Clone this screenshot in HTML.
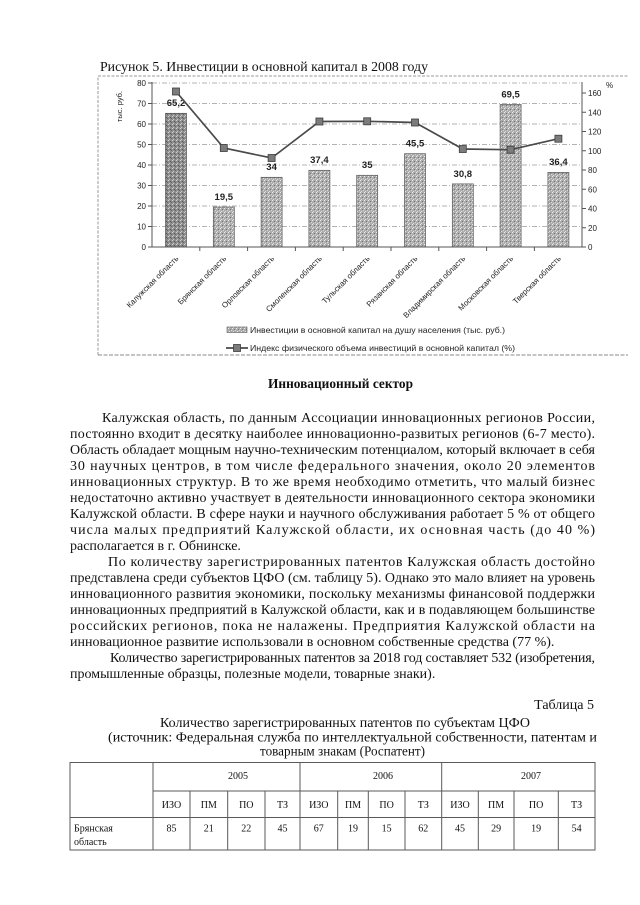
<!DOCTYPE html>
<html>
<head>
<meta charset="utf-8">
<style>
html,body{margin:0;padding:0;background:#fff;}
svg{display:block;}
.serif{font-family:"Liberation Serif","Noto Serif CJK SC",serif;}
.sans{font-family:"Liberation Sans","Noto Sans CJK SC",sans-serif;}
</style>
</head>
<body>
<svg width="640" height="905" viewBox="0 0 640 905" xmlns="http://www.w3.org/2000/svg">
<defs>
  <pattern id="pl" width="4" height="4" patternUnits="userSpaceOnUse">
    <rect width="4" height="4" fill="#acacac"/>
    <rect x="0" y="0" width="1" height="1" fill="#eeeeee"/>
    <rect x="2" y="1" width="1" height="1" fill="#777"/>
    <rect x="1" y="3" width="1" height="1" fill="#e0e0e0"/>
    <rect x="3" y="2" width="1" height="1" fill="#d8d8d8"/>
  </pattern>
  <pattern id="pd" width="4" height="4" patternUnits="userSpaceOnUse">
    <rect width="4" height="4" fill="#8e8e8e"/>
    <rect x="0" y="0" width="1" height="1" fill="#d0d0d0"/>
    <rect x="2" y="1" width="1" height="1" fill="#555"/>
    <rect x="1" y="3" width="1" height="1" fill="#c8c8c8"/>
    <rect x="3" y="2" width="1" height="1" fill="#666"/>
  </pattern>
</defs>

<!-- Chart title -->
<text class="serif" x="100" y="71" font-size="14" fill="#111" textLength="328" lengthAdjust="spacingAndGlyphs">Рисунок 5. Инвестиции в основной капитал в 2008 году</text>

<!-- chart frame -->
<path d="M98,355 V76 H628" fill="none" stroke="#9a9a9a" stroke-width="1" stroke-dasharray="3,1.5"/>
<line x1="98" y1="355" x2="628" y2="355" stroke="#8a8a8a" stroke-width="1" stroke-dasharray="4,1.5"/>

<!-- gridlines -->
<g stroke="#9a9a9a" stroke-width="0.8" stroke-dasharray="5,2,1,2" fill="none">
  <line x1="152" y1="83" x2="582" y2="83"/>
  <line x1="152" y1="103.5" x2="582" y2="103.5"/>
  <line x1="152" y1="124" x2="582" y2="124"/>
  <line x1="152" y1="144.5" x2="582" y2="144.5"/>
  <line x1="152" y1="165" x2="582" y2="165"/>
  <line x1="152" y1="185.5" x2="582" y2="185.5"/>
  <line x1="152" y1="206" x2="582" y2="206"/>
  <line x1="152" y1="226.5" x2="582" y2="226.5"/>
</g>

<!-- bars -->
<g stroke="#555" stroke-width="0.7">
  <rect x="165.5" y="113.3" width="21" height="133.7" fill="url(#pd)"/>
  <rect x="213.3" y="207" width="21" height="40" fill="url(#pl)"/>
  <rect x="261.1" y="177.3" width="21" height="69.7" fill="url(#pl)"/>
  <rect x="308.9" y="170.3" width="21" height="76.7" fill="url(#pl)"/>
  <rect x="356.7" y="175.3" width="21" height="71.7" fill="url(#pl)"/>
  <rect x="404.5" y="153.7" width="21" height="93.3" fill="url(#pl)"/>
  <rect x="452.3" y="183.9" width="21" height="63.1" fill="url(#pl)"/>
  <rect x="500.1" y="104.5" width="21" height="142.5" fill="url(#pl)"/>
  <rect x="547.9" y="172.4" width="21" height="74.6" fill="url(#pl)"/>
</g>

<!-- axes -->
<g stroke="#555" stroke-width="1" fill="none">
  <line x1="152" y1="82" x2="152" y2="247"/>
  <line x1="152" y1="247" x2="582" y2="247"/>
  <line x1="582" y1="82" x2="582" y2="247"/>
  <path d="M148,247H152M148,226.5H152M148,206H152M148,185.5H152M148,165H152M148,144.5H152M148,124H152M148,103.5H152M148,83H152"/>
  <path d="M582,247H586M582,227.75H586M582,208.5H586M582,189.25H586M582,170H586M582,150.75H586M582,131.5H586M582,112.25H586M582,93H586"/>
  <path d="M199.8,247V251M247.6,247V251M295.4,247V251M343.2,247V251M391,247V251M438.8,247V251M486.6,247V251M534.4,247V251"/>
</g>

<!-- left tick labels -->
<g class="sans" font-size="8" fill="#222" text-anchor="end">
  <text x="146" y="250">0</text>
  <text x="146" y="229.5">10</text>
  <text x="146" y="209">20</text>
  <text x="146" y="188.5">30</text>
  <text x="146" y="168">40</text>
  <text x="146" y="147.5">50</text>
  <text x="146" y="127">60</text>
  <text x="146" y="106.5">70</text>
  <text x="146" y="86">80</text>
</g>
<!-- right tick labels -->
<g class="sans" font-size="8" fill="#222">
  <text x="588" y="250">0</text>
  <text x="588" y="230.75">20</text>
  <text x="588" y="211.5">40</text>
  <text x="588" y="192.25">60</text>
  <text x="588" y="173">80</text>
  <text x="588" y="153.75">100</text>
  <text x="588" y="134.5">120</text>
  <text x="588" y="115.25">140</text>
  <text x="588" y="96">160</text>
  <text x="606" y="88">%</text>
</g>

<!-- y-axis title -->
<text class="sans" font-size="7.5" fill="#222" text-anchor="middle" transform="translate(122,106.5) rotate(-90)">тыс. руб.</text>

<!-- data labels -->
<g class="sans" font-size="9.5" font-weight="bold" fill="#222" text-anchor="middle">
  <text x="176" y="106">65,2</text>
  <text x="223.8" y="200">19,5</text>
  <text x="271.6" y="170">34</text>
  <text x="319.4" y="163">37,4</text>
  <text x="367.2" y="168">35</text>
  <text x="415" y="146.5">45,5</text>
  <text x="462.8" y="177">30,8</text>
  <text x="510.6" y="97.5">69,5</text>
  <text x="558.4" y="165">36,4</text>
</g>

<!-- line series -->
<polyline points="176,91.5 223.8,148 271.6,158 319.4,121.5 367.2,121.3 415,122.5 462.8,149 510.6,149.7 558.4,138.7" fill="none" stroke="#4a4a4a" stroke-width="1.7"/>
<g fill="#7c7c7c" stroke="#3c3c3c" stroke-width="0.8">
  <rect x="172.5" y="88" width="7" height="7"/>
  <rect x="220.3" y="144.5" width="7" height="7"/>
  <rect x="268.1" y="154.5" width="7" height="7"/>
  <rect x="315.9" y="118" width="7" height="7"/>
  <rect x="363.7" y="117.8" width="7" height="7"/>
  <rect x="411.5" y="119" width="7" height="7"/>
  <rect x="459.3" y="145.5" width="7" height="7"/>
  <rect x="507.1" y="146.2" width="7" height="7"/>
  <rect x="554.9" y="135.2" width="7" height="7"/>
</g>

<!-- x-axis category labels -->
<g class="sans" font-size="7.8" fill="#222" text-anchor="end">
  <text transform="translate(179,259) rotate(-45)">Калужская область</text>
  <text transform="translate(226.8,259) rotate(-45)">Брянская область</text>
  <text transform="translate(274.6,259) rotate(-45)">Орловская область</text>
  <text transform="translate(322.4,259) rotate(-45)">Смоленская область</text>
  <text transform="translate(370.2,259) rotate(-45)">Тульская область</text>
  <text transform="translate(418,259) rotate(-45)">Рязанская область</text>
  <text transform="translate(465.8,259) rotate(-45)">Владимирская область</text>
  <text transform="translate(513.6,259) rotate(-45)">Московская область</text>
  <text transform="translate(561.4,259) rotate(-45)">Тверская область</text>
</g>

<!-- legend -->
<rect x="227" y="327" width="20" height="5.5" fill="url(#pl)" stroke="#555" stroke-width="0.6"/>
<text class="sans" x="250" y="333" font-size="8.3" fill="#222" textLength="255" lengthAdjust="spacingAndGlyphs">Инвестиции в основной капитал на душу населения (тыс. руб.)</text>
<line x1="226" y1="348" x2="248" y2="348" stroke="#4a4a4a" stroke-width="1.7"/>
<rect x="233.5" y="344.5" width="7" height="7" fill="#7c7c7c" stroke="#3c3c3c" stroke-width="0.8"/>
<text class="sans" x="250" y="351" font-size="8.3" fill="#222" textLength="265" lengthAdjust="spacingAndGlyphs">Индекс физического объема инвестиций в основной капитал (%)</text>

<!-- Heading -->
<text class="serif" x="268" y="388" font-size="14" font-weight="bold" fill="#111" textLength="145" lengthAdjust="spacingAndGlyphs">Инновационный сектор</text>

<!-- Paragraphs -->
<g class="serif" font-size="14" fill="#111">
  <text x="102" y="422" textLength="493" lengthAdjust="spacing">Калужская область, по данным Ассоциации инновационных регионов России,</text>
  <text x="70" y="438" textLength="525" lengthAdjust="spacing">постоянно входит в десятку наиболее инновационно-развитых регионов (6-7 место).</text>
  <text x="70" y="454" textLength="525" lengthAdjust="spacing">Область обладает мощным научно-техническим потенциалом, который включает в себя</text>
  <text x="70" y="470" textLength="525" lengthAdjust="spacing">30 научных центров, в том числе федерального значения,  около 20 элементов</text>
  <text x="70" y="486" textLength="525" lengthAdjust="spacing">инновационных структур. В то же время необходимо отметить, что малый бизнес</text>
  <text x="70" y="502" textLength="525" lengthAdjust="spacing">недостаточно активно участвует в деятельности инновационного сектора экономики</text>
  <text x="70" y="518" textLength="525" lengthAdjust="spacing">Калужской области. В сфере науки и научного обслуживания работает 5 % от общего</text>
  <text x="70" y="534" textLength="525" lengthAdjust="spacing">числа малых предприятий Калужской области, их основная часть (до 40 %)</text>
  <text x="70" y="550">располагается в г. Обнинске.</text>
  <text x="108" y="566" textLength="487" lengthAdjust="spacing">По количеству зарегистрированных патентов Калужская область достойно</text>
  <text x="70" y="582" textLength="525" lengthAdjust="spacing">представлена среди субъектов ЦФО (см. таблицу 5). Однако это мало влияет на уровень</text>
  <text x="70" y="598" textLength="525" lengthAdjust="spacing">инновационного развития экономики, поскольку механизмы финансовой поддержки</text>
  <text x="70" y="614" textLength="525" lengthAdjust="spacing">инновационных предприятий в Калужской области, как и в подавляющем большинстве</text>
  <text x="70" y="630" textLength="525" lengthAdjust="spacing">российских регионов, пока не налажены. Предприятия Калужской области на</text>
  <text x="70" y="646">инновационное развитие использовали в основном собственные средства (77 %).</text>
  <text x="110" y="662" textLength="485" lengthAdjust="spacing">Количество зарегистрированных патентов за 2018 год составляет 532 (изобретения,</text>
  <text x="70" y="678">промышленные образцы, полезные модели, товарные знаки).</text>
</g>

<!-- Table caption -->
<g class="serif" font-size="14" fill="#111">
  <text x="594" y="709" text-anchor="end">Таблица 5</text>
  <text x="160" y="727" textLength="370" lengthAdjust="spacingAndGlyphs">Количество зарегистрированных патентов по субъектам ЦФО</text>
  <text x="108" y="741.5" textLength="489" lengthAdjust="spacingAndGlyphs">(источник: Федеральная служба по интеллектуальной собственности, патентам и</text>
  <text x="260" y="755.5" textLength="165" lengthAdjust="spacingAndGlyphs">товарным знакам (Роспатент)</text>
</g>

<!-- Table -->
<g stroke="#5a5a5a" stroke-width="1" fill="none">
  <rect x="70" y="762.5" width="525" height="87.5"/>
  <line x1="153" y1="791" x2="595" y2="791"/>
  <line x1="70" y1="817.5" x2="595" y2="817.5"/>
  <line x1="153" y1="762.5" x2="153" y2="850"/>
  <line x1="300" y1="762.5" x2="300" y2="850"/>
  <line x1="441.7" y1="762.5" x2="441.7" y2="850"/>
  <line x1="190" y1="791" x2="190" y2="850"/>
  <line x1="227.7" y1="791" x2="227.7" y2="850"/>
  <line x1="265" y1="791" x2="265" y2="850"/>
  <line x1="337.7" y1="791" x2="337.7" y2="850"/>
  <line x1="368.3" y1="791" x2="368.3" y2="850"/>
  <line x1="405" y1="791" x2="405" y2="850"/>
  <line x1="478.3" y1="791" x2="478.3" y2="850"/>
  <line x1="514" y1="791" x2="514" y2="850"/>
  <line x1="558.3" y1="791" x2="558.3" y2="850"/>
</g>
<g class="serif" font-size="10" fill="#111" text-anchor="middle">
  <text x="238" y="779">2005</text>
  <text x="383" y="779">2006</text>
  <text x="531" y="779">2007</text>

  <text x="171.5" y="808">ИЗО</text>
  <text x="208.8" y="808">ПМ</text>
  <text x="246.3" y="808">ПО</text>
  <text x="282.5" y="808">ТЗ</text>
  <text x="318.8" y="808">ИЗО</text>
  <text x="353" y="808">ПМ</text>
  <text x="386.6" y="808">ПО</text>
  <text x="423.3" y="808">ТЗ</text>
  <text x="460" y="808">ИЗО</text>
  <text x="496.1" y="808">ПМ</text>
  <text x="536.1" y="808">ПО</text>
  <text x="576.6" y="808">ТЗ</text>

  <text x="171.5" y="831.5">85</text>
  <text x="208.8" y="831.5">21</text>
  <text x="246.3" y="831.5">22</text>
  <text x="282.5" y="831.5">45</text>
  <text x="318.8" y="831.5">67</text>
  <text x="353" y="831.5">19</text>
  <text x="386.6" y="831.5">15</text>
  <text x="423.3" y="831.5">62</text>
  <text x="460" y="831.5">45</text>
  <text x="496.1" y="831.5">29</text>
  <text x="536.1" y="831.5">19</text>
  <text x="576.6" y="831.5">54</text>
</g>
<g class="serif" font-size="10" fill="#111">
  <text x="74" y="831.5">Брянская</text>
  <text x="74" y="845">область</text>
</g>
</svg>
</body>
</html>
